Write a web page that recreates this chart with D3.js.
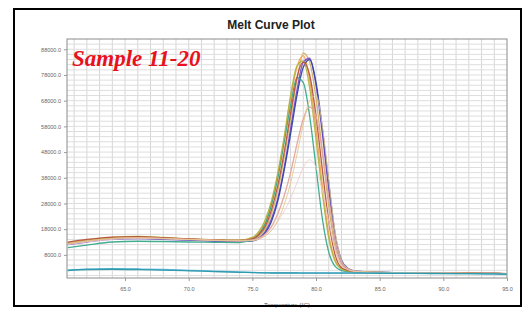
<!DOCTYPE html>
<html>
<head>
<meta charset="utf-8">
<script src="https://cdn.jsdelivr.net/npm/d3@7"></script>
<style>
  body { margin: 0; background: white; }
</style>
</head>
<body>
<div id="container"></div>
<script>
/**
 * CONSTANTS AND GLOBALS
 * */
const width = 525,
  height = 309,
  margin = { top: 39, bottom: 31, left: 67, right: 18 };

/**
 * DATA
 * */
// temperatures (°C) shared by every curve
const temps = [60.5, 62, 64, 66, 68, 70, 72, 74, 75, 75.5, 76, 76.5, 77, 77.5, 78, 78.5,
  79, 79.5, 80, 80.5, 81, 81.5, 82, 82.5, 83, 84, 86, 88, 90, 92, 94, 95];

const sampleNames = ["S11", "S12", "S13", "S14", "S15", "S16", "S17", "S18", "S19", "S20", "NTC1", "NTC2"];
const sampleColors = ["#cdb064", "#f4a257", "#7b52c9", "#3341a6", "#3aa88a", "#b4b23e",
  "#b4543c", "#e6a39c", "#f1cccc", "#e4c587", "#5cb6e2", "#2a98a8"];

// derivative values (-d(RFU)/dT)
const s11 = [12800, 13600, 14600, 14800, 14400, 14000, 13700, 13500, 14000, 15200, 18000, 24000, 33000, 46000, 61000, 76000, 86500, 83000, 69000, 48000, 27000, 11000, 4000, 2200, 1600, 1300, 1100, 1000, 900, 900, 800, 700];
const s12 = [12500, 13500, 14700, 15000, 14600, 14100, 13800, 13600, 14600, 16500, 20500, 28000, 39000, 53000, 69000, 81000, 85500, 76000, 57000, 35000, 16000, 6000, 2600, 1800, 1500, 1300, 1100, 1000, 900, 900, 800, 700];
const s13 = [12000, 13000, 14000, 14300, 14000, 13700, 13400, 13200, 13600, 14600, 17000, 22000, 30000, 42000, 57000, 72000, 83000, 84500, 74000, 55000, 33000, 14000, 5000, 2500, 1700, 1400, 1100, 1000, 900, 800, 800, 700];
const s14 = [12200, 13200, 14200, 14500, 14200, 13800, 13500, 13300, 13500, 14300, 16500, 21000, 29000, 41000, 55000, 70000, 81000, 84000, 75000, 57000, 36000, 16000, 6000, 2800, 1800, 1400, 1100, 1000, 900, 800, 800, 700];
const s15 = [10800, 11800, 13000, 13300, 13200, 13000, 12900, 12800, 14000, 16000, 20000, 27500, 38000, 52000, 66000, 77000, 75000, 62000, 42000, 22000, 9000, 3500, 1900, 1500, 1300, 1200, 1000, 900, 900, 800, 700, 600];
const s16 = [12600, 13600, 14800, 15200, 14800, 14200, 13900, 13700, 14800, 17000, 21500, 29000, 40000, 54000, 70000, 81500, 83500, 73000, 53000, 32000, 14500, 5500, 2500, 1800, 1500, 1300, 1100, 1000, 900, 900, 800, 700];
const s17 = [13000, 14000, 14900, 15100, 14700, 14200, 13800, 13600, 14200, 15800, 19000, 25500, 35000, 48000, 63000, 77000, 83000, 78000, 62000, 41000, 21000, 8000, 3000, 2000, 1600, 1300, 1100, 1000, 900, 900, 800, 700];
const s18 = [12300, 13300, 14300, 14700, 14400, 14000, 13700, 13500, 13800, 14500, 16000, 19000, 24000, 31000, 40000, 51000, 61000, 65500, 62000, 48000, 30000, 14000, 5000, 2500, 1700, 1300, 1100, 1000, 900, 800, 800, 700];
const s19 = [12000, 13000, 14000, 14400, 14200, 13900, 13600, 13400, 13600, 14200, 15500, 17500, 21000, 25000, 30000, 36000, 42000, 45000, 42000, 33000, 21000, 10000, 4000, 2200, 1600, 1300, 1100, 1000, 900, 800, 800, 700];
const s20 = [12400, 13400, 14400, 14700, 14400, 14000, 13700, 13500, 13600, 14100, 15300, 17500, 21500, 27500, 36000, 47000, 59000, 68000, 70000, 58000, 37000, 17000, 6000, 2800, 1800, 1400, 1100, 1000, 900, 800, 800, 700];
const ntc1 = [2200, 2400, 2600, 2500, 2300, 2000, 1700, 1400, 1200, 1100, 1000, 1000, 1000, 1000, 1000, 1000, 1000, 1000, 1000, 1000, 1000, 1000, 1000, 1000, 1000, 900, 900, 800, 800, 700, 600, 500];
const ntc2 = [1900, 2300, 2400, 2300, 2100, 1800, 1500, 1200, 1100, 1000, 1000, 950, 950, 950, 950, 950, 900, 900, 900, 900, 900, 900, 900, 900, 900, 900, 800, 800, 700, 700, 600, 500];

const seriesValues = [s11, s12, s13, s14, s15, s16, s17, s18, s19, s20, ntc1, ntc2];

// axis ticks
const xTicks = [65, 70, 75, 80, 85, 90, 95];
const yTicks = [8000, 18000, 28000, 38000, 48000, 58000, 68000, 78000, 88000];

/**
 * DRAW
 * */
const svg = d3.select("#container")
  .append("svg")
  .attr("width", width)
  .attr("height", height)
  .style("background-color", "white")
  .style("display", "block");

const xScale = d3.scaleLinear()
  .domain([60.44, 95])
  .range([margin.left, width - margin.right]);

const yScale = d3.scaleLinear()
  .domain([-1000, 92000])
  .range([height - margin.bottom, margin.top]);

// grid lines: every degree, every 2000 units
svg.append("g")
  .selectAll("line")
  .data(d3.range(61, 95, 1))
  .join("line")
  .attr("x1", d => xScale(d))
  .attr("x2", d => xScale(d))
  .attr("y1", yScale.range()[0])
  .attr("y2", yScale.range()[1])
  .attr("stroke", "#d6d6d6")
  .attr("stroke-width", 1);

svg.append("g")
  .selectAll("line")
  .data(d3.range(0, 92000, 2000))
  .join("line")
  .attr("x1", xScale.range()[0])
  .attr("x2", xScale.range()[1])
  .attr("y1", d => yScale(d))
  .attr("y2", d => yScale(d))
  .attr("stroke", "#dedede")
  .attr("stroke-width", 1);

// plot frame
svg.append("rect")
  .attr("x", xScale.range()[0])
  .attr("y", yScale.range()[1])
  .attr("width", xScale.range()[1] - xScale.range()[0])
  .attr("height", yScale.range()[0] - yScale.range()[1])
  .attr("fill", "none")
  .attr("stroke", "#8c8c8c")
  .attr("stroke-width", 1);

// curves
const line = d3.line()
  .x((d, i) => xScale(temps[i]))
  .y(d => yScale(d))
  .curve(d3.curveMonotoneX);

svg.append("g")
  .selectAll("path")
  .data(seriesValues)
  .join("path")
  .attr("d", d => line(d))
  .attr("fill", "none")
  .attr("stroke", (d, i) => sampleColors[i])
  .attr("stroke-width", (d, i) => (i === 8 || i === 9) ? 0.9 : 1.3)
  .attr("opacity", 0.95);

// axes
const xAxis = d3.axisBottom(xScale)
  .tickValues(xTicks)
  .tickFormat(d3.format(".1f"))
  .tickSize(3)
  .tickPadding(6);

const yAxis = d3.axisLeft(yScale)
  .tickValues(yTicks)
  .tickFormat(d3.format(".1f"))
  .tickSize(3)
  .tickPadding(3);

svg.append("g")
  .attr("transform", `translate(0,${yScale.range()[0]})`)
  .call(xAxis)
  .call(g => g.select(".domain").remove())
  .call(g => g.selectAll("line").attr("stroke", "#9a9a9a"))
  .call(g => g.selectAll("text")
    .attr("fill", "#666")
    .style("font", "5.5px 'Liberation Sans', Arial, sans-serif"));

svg.append("g")
  .attr("transform", `translate(${xScale.range()[0]},0)`)
  .call(yAxis)
  .call(g => g.select(".domain").remove())
  .call(g => g.selectAll("line").attr("stroke", "#9a9a9a"))
  .call(g => g.selectAll("text")
    .attr("fill", "#666")
    .style("font", "5.5px 'Liberation Sans', Arial, sans-serif"));

// title
svg.append("text")
  .attr("x", 271)
  .attr("y", 29)
  .attr("text-anchor", "middle")
  .style("font", "bold 12px 'Liberation Sans', Arial, sans-serif")
  .attr("fill", "#222")
  .text("Melt Curve Plot");

// sample label
svg.append("text")
  .attr("x", 72)
  .attr("y", 66)
  .style("font", "italic bold 23px 'Liberation Serif', 'Times New Roman', serif")
  .attr("fill", "#e8121c")
  .text("Sample 11-20");

// x axis title (partly cut by the frame)
svg.append("text")
  .attr("x", 287)
  .attr("y", 307)
  .attr("text-anchor", "middle")
  .style("font", "6px 'Liberation Sans', Arial, sans-serif")
  .attr("fill", "#555")
  .text("Temperature (°C)");

// outer black frame
svg.append("rect")
  .attr("x", 14)
  .attr("y", 9)
  .attr("width", 507)
  .attr("height", 297)
  .attr("fill", "none")
  .attr("stroke", "black")
  .attr("stroke-width", 2);
</script>
</body>
</html>
